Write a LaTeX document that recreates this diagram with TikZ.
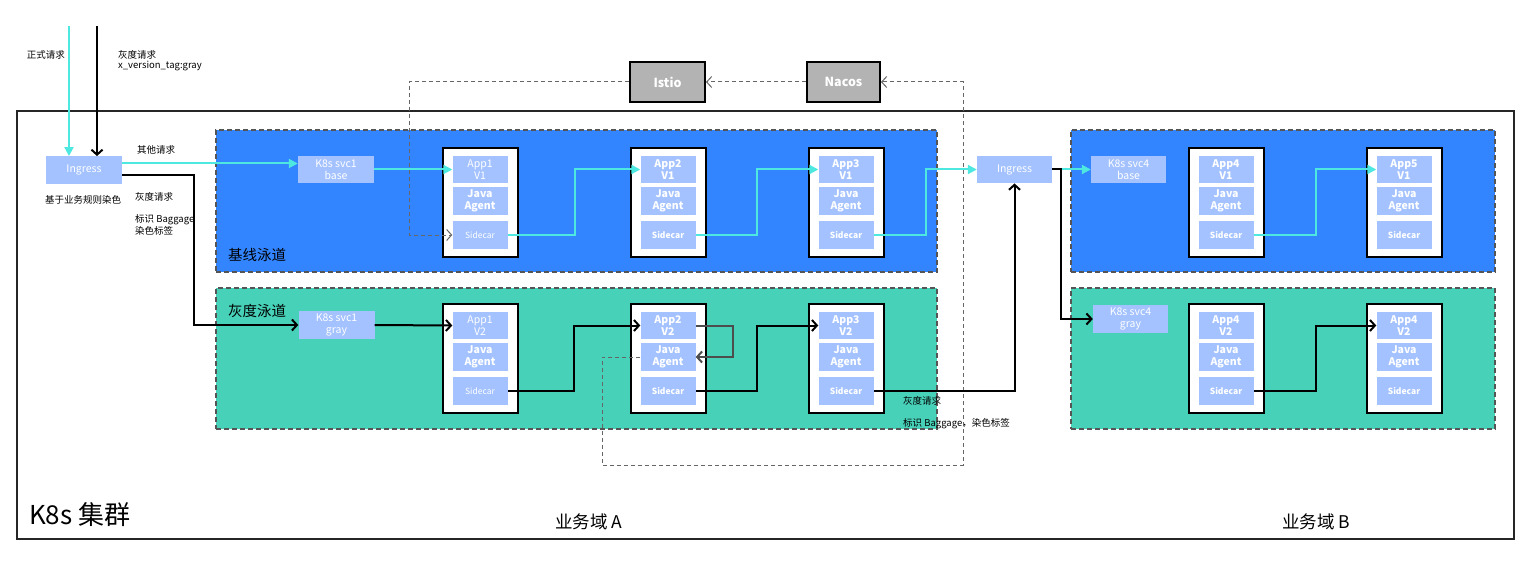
\documentclass[tikz,border=0pt]{standalone}
\usepackage{fontspec}
\setmainfont{Noto Sans CJK SC}
\usetikzlibrary{arrows.meta,calc}
\definecolor{laneblue}{HTML}{3385FF}
\definecolor{lanegreen}{HTML}{47D1B8}
\definecolor{innerblue}{HTML}{A3C2FF}
\definecolor{cyanl}{HTML}{4DE8E0}
\definecolor{boxgray}{HTML}{B3B3B3}
\definecolor{dashgray}{HTML}{555555}
\definecolor{linkgray}{HTML}{666666}
\definecolor{loopgray}{HTML}{4D4D4D}
\newcommand\appfont{\fontsize{10.5}{12}\selectfont}
\newcommand\sidefont{\fontsize{8.5}{9.5}\selectfont}
\tikzset{
  outerbox/.style={draw=black!85, line width=1.3pt, minimum width=1497pt, minimum height=428pt, inner sep=0pt},
  lanebox/.style={draw=dashgray, line width=1.8pt, dash pattern=on 5pt off 3pt, inner sep=0pt, minimum height=142pt},
  container/.style={draw=black, line width=2pt, fill=white, minimum width=75pt, minimum height=109pt, inner sep=0pt},
  inbox/.style={fill=innerblue, text=white, inner sep=0pt, align=center, minimum width=55pt, minimum height=27.5pt},
  svcbox/.style={fill=innerblue, text=white, inner sep=0pt, align=center, minimum width=76pt, minimum height=27.5pt, font=\fontsize{10.5}{12}\selectfont},
  ctrlbox/.style={fill=boxgray, draw=black, line width=2pt, text=white, font=\fontsize{12.5}{14}\selectfont\bfseries, minimum width=75pt, minimum height=40pt, inner sep=0pt},
  lbl/.style={inner sep=0pt, font=\fontsize{9.5}{11}\selectfont, align=left},
  cy/.style={draw=cyanl, line width=2pt, -{Triangle[length=9pt,width=9pt]}},
  bkline/.style={draw=black, line width=2pt},
  bk/.style={bkline, -{Straight Barb[length=5pt,width=11pt,line width=2pt]}},
  loopln/.style={draw=loopgray, line width=2pt, -{Straight Barb[length=5pt,width=11pt,line width=2pt]}},
  dsh/.style={draw=linkgray, line width=1pt, dash pattern=on 4pt off 3pt, -{Straight Barb[length=5pt,width=11pt,line width=1pt]}},
}
\newcommand\appstack[6]{%
  \node[container] (#1) at ({#2+37.5},{#3+54.5}) {};
  \node[inbox, font=\appfont#6] (#1a) at ({#2+37},{#3+21.5}) {#4\\#5};
  \node[inbox, font=\appfont\bfseries] (#1j) at ({#2+37},{#3+53}) {Java\\Agent};
  \node[inbox, font=\sidefont#6] (#1s) at ({#2+37},{#3+87}) {Sidecar};
}
\begin{document}
\begin{tikzpicture}[x=1pt,y=-1pt]
\useasboundingbox (0,0) rectangle (1529,567);
\fill[white] (0,0) rectangle (1529,567);

% cluster
\node[outerbox] (k8s) at (765.5,325) {};
\node[anchor=west, inner sep=0pt, font=\fontsize{26}{30}\selectfont] (k8slbl) at (29,515) {K8s 集群};
\node[inner sep=0pt, font=\fontsize{17.5}{20}\selectfont] (domA) at (589,522) {业务域 A};
\node[inner sep=0pt, font=\fontsize{17.5}{20}\selectfont] (domB) at (1316,522) {业务域 B};

% lanes
\node[lanebox, fill=laneblue, minimum width=721pt] (laneA1) at (576.5,201) {};
\node[lanebox, fill=lanegreen, minimum width=721pt, minimum height=141pt] (laneA2) at (576.5,358.5) {};
\node[lanebox, fill=laneblue, minimum width=424pt] (laneB1) at (1283,201) {};
\node[lanebox, fill=lanegreen, minimum width=424pt, minimum height=141pt] (laneB2) at (1283,358.5) {};
\node[anchor=west, inner sep=0pt, font=\fontsize{14.5}{16}\selectfont] (lbl1) at (228,255) {基线泳道};
\node[anchor=west, inner sep=0pt, font=\fontsize{14.5}{16}\selectfont] (lbl2) at (228,311) {灰度泳道};

% control plane
\node[ctrlbox] (istio) at (667.5,82) {Istio};
\node[ctrlbox, minimum width=73pt] (nacos) at (843.5,82) {Nacos};

% ingress and services
\node[svcbox] (ing1) at (84,170) {Ingress};
\node[svcbox] (svc1b) at (336,169.5) {K8s svc1\\base};
\node[svcbox] (svc1g) at (336.5,325) {K8s svc1\\gray};
\node[svcbox, minimum width=75pt] (ing2) at (1014.5,169.5) {Ingress};
\node[svcbox, minimum width=75pt] (svc4b) at (1128.5,169.5) {K8s svc4\\base};
\node[svcbox, minimum width=75pt] (svc4g) at (1130.5,319) {K8s svc4\\gray};

% app stacks
\appstack{a1}{443}{148}{App1}{V1}{}
\appstack{a2}{631}{148}{App2}{V1}{\bfseries}
\appstack{a3}{809}{148}{App3}{V1}{\bfseries}
\appstack{a4}{1189}{148}{App4}{V1}{\bfseries}
\appstack{a5}{1367}{148}{App5}{V1}{\bfseries}
\appstack{b1}{443}{304}{App1}{V2}{}
\appstack{b2}{631}{304}{App2}{V2}{\bfseries}
\appstack{b3}{809}{304}{App3}{V2}{\bfseries}
\appstack{c1}{1189}{304}{App4}{V2}{\bfseries}
\appstack{c2}{1367}{304}{App4}{V2}{\bfseries}

% labels
\node[lbl, anchor=center] (t1) at (46,55) {正式请求};
\node[lbl, anchor=west] (t2) at (118,55) {灰度请求};
\node[lbl, anchor=west] (t3) at (118,66) {x\_version\_tag:gray};
\node[lbl, anchor=west] (t4) at (137,150) {其他请求};
\node[lbl, anchor=west] (t5) at (45,200) {基于业务规则染色};
\node[lbl, anchor=west] (t6) at (135,197) {灰度请求};
\node[lbl, anchor=west] (t7) at (135,220) {标识 Baggage};
\node[lbl, anchor=west] (t8) at (135,231) {染色标签};
\node[lbl, anchor=west] (t9) at (903,401) {灰度请求};
\node[lbl, anchor=west] (t10) at (903,424) {标识 Baggage，染色标签};

% entry coordinates
\coordinate (in1) at (69,26);
\coordinate (in2) at (97,26);
\coordinate (dc) at (963,465);

% dashed control links
\draw[dsh] (istio.west) -- ++(-220,0) |- (a1s.west);
\draw[dsh] (nacos.west) -- (istio.east);
\draw[dsh] (b2j.west) -- ++(-38,0) |- (dc) |- (nacos.east);

% baseline (cyan) flow
\draw[cy] (in1) -- (in1 |- ing1.north);
\draw[cy] ([yshift=6.5pt]ing1.east) coordinate (o1) -- (svc1b.west |- o1);
\draw[cy] (svc1b.east) -- (a1a.west);
\draw[cy] (a1s.east) -- ++(67,0) |- (a2a.west);
\draw[cy] (a2s.east) -- ++(61,0) |- (a3a.west);
\draw[cy] (a3s.east) -- ++(52,0) |- (ing2.west);
\draw[cy] (ing2.east) -- (svc4b.west);
\draw[cy] (a4s.east) -- ++(62,0) |- (a5a.west);

% gray (black) flow
\draw[bk] (in2) -- (in2 |- ing1.north);
\draw[bk] ([yshift=-5pt]ing1.east) -- ++(72,0) |- (svc1g.west);
\draw[bk] (svc1g.east) -- (b1a.west);
\draw[bk] (b1s.east) -- ++(66,0) |- (b2a.west);
\draw[bk] (b2s.east) -- ++(61,0) |- (b3a.west);
\draw[bk] (b3s.east) -| (ing2.south);
\draw[bk] (ing2.east) -- ++(9,0) |- (svc4g.west);
\draw[bk] (c1s.east) -- ++(62,0) |- (c2a.west);
\draw[loopln] (b2a.east) -- ++(37,0) |- (b2j.east);
\end{tikzpicture}
\end{document}
